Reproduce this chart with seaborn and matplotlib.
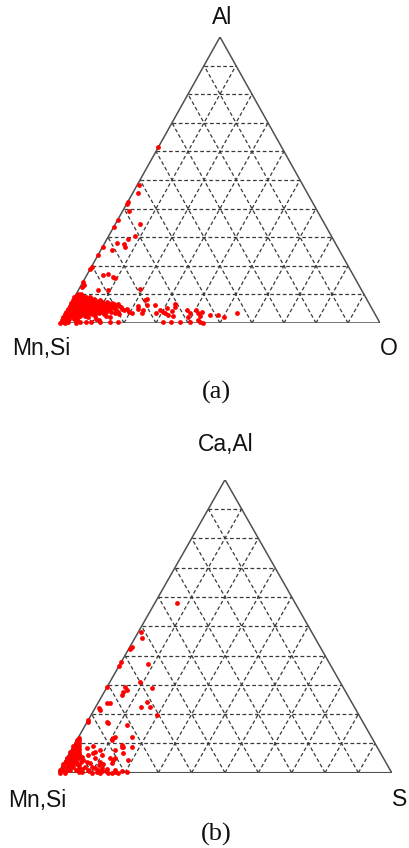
import matplotlib
matplotlib.use("Agg")
import matplotlib.pyplot as plt
import numpy as np
import pandas as pd
import seaborn as sns

sns.set_theme(style="white")
plt.rcParams["font.family"] = ["Liberation Sans", "DejaVu Sans"]

# ---------------- data: (a) Mn,Si - Al - O  (percent: Al, O) ----------------
upper_a = [
    (61.4, 0.0), (48.3, 0.4), (45.6, 1.7), (42.4, 0.1), (41.6, 0.2), (39.2, 2.1),
    (36.0, 0.2), (34.5, 7.7), (33.5, 0.0), (30.5, 8.1), (29.3, 6.7), (27.9, 3.8),
    (27.6, 6.3), (26.5, 7.1), (25.5, 3.4), (26.7, 0.0), (23.8, 0.0), (19.7, 0.0),
    (18.9, 0.0), (16.8, 5.1), (17.0, 6.6), (16.2, 8.6), (15.6, 9.4), (14.4, 0.0),
    (13.3, 0.7), (12.7, 0.5), (11.5, 6.2), (11.5, 9.3), (11.8, 19.1),
]
tail_a = [
    (8.0, 22.6), (8.4, 23.1), (6.3, 24.0), (4.5, 23.7), (3.4, 23.8), (6.3, 26.6),
    (3.4, 28.3), (4.5, 29.0), (4.0, 30.3), (5.1, 30.8), (3.4, 31.1), (2.8, 32.4),
    (4.3, 32.7), (5.7, 33.0), (2.4, 34.2), (6.6, 32.6), (4.5, 37.3), (3.4, 38.9),
    (2.2, 39.0), (4.5, 40.4), (3.4, 41.5), (4.0, 42.3), (2.4, 42.5), (1.0, 42.7),
    (0.0, 44.8), (2.8, 45.5), (2.8, 48.1), (2.2, 50.0), (3.4, 53.5),
    (0.3, 6.2), (0.3, 9.4), (0.3, 12.5), (0.3, 15.6), (0.3, 18.0), (0.3, 32.0),
    (0.3, 34.4), (0.3, 37.5), (0.3, 40.6), (0.3, 43.7),
]
core_a = [
    (10, 0.5), (10, 1.5),
    (9.5, 0.3), (9.5, 1.2), (9.5, 2.4),
    (9, 0), (9, 1.2), (9, 2.5), (9, 3.6), (9, 4.8),
    (8.5, 0.5), (8.5, 1.6), (8.5, 2.8), (8.5, 4), (8.5, 5.2), (8.5, 6.4),
    (8, 0), (8, 1), (8, 2.2), (8, 3.4), (8, 4.6), (8, 5.8), (8, 7), (8, 8.4),
    (7.5, 0.5), (7.5, 1.8), (7.5, 3), (7.5, 4.2), (7.5, 5.5), (7.5, 6.8), (7.5, 8),
    (7.5, 9.4), (7.5, 10.8),
    (7, 0), (7, 1.2), (7, 2.4), (7, 3.6), (7, 5), (7, 6.2), (7, 7.5), (7, 8.8),
    (7, 10), (7, 11.5), (7, 12.8),
    (6.5, 0.6), (6.5, 2), (6.5, 3.2), (6.5, 4.4), (6.5, 5.8), (6.5, 7), (6.5, 8.3),
    (6.5, 9.6), (6.5, 11), (6.5, 12.2), (6.5, 13.5), (6.5, 14.8),
    (6, 0), (6, 1.2), (6, 2.6), (6, 3.8), (6, 5), (6, 6.4), (6, 7.6), (6, 9),
    (6, 10.3), (6, 11.6), (6, 13), (6, 14.2), (6, 15.5), (6, 21.5),
    (5.5, 0.5), (5.5, 1.8), (5.5, 3), (5.5, 4.4), (5.5, 5.6), (5.5, 7), (5.5, 8.2),
    (5.5, 9.6), (5.5, 11), (5.5, 12.4), (5.5, 13.8), (5.5, 16.2),
    (5, 0), (5, 1.2), (5, 2.5), (5, 3.8), (5, 5), (5, 6.3), (5, 7.6), (5, 9),
    (5, 10.4), (5, 11.8), (5, 13.2), (5, 14.6), (5, 16.8), (5, 18.5), (5, 22),
    (4.5, 0.6), (4.5, 2), (4.5, 3.3), (4.5, 4.6), (4.5, 6), (4.5, 7.4), (4.5, 8.8),
    (4.5, 10.2), (4.5, 11.6), (4.5, 13), (4.5, 15.4), (4.5, 17.6),
    (4, 0), (4, 1.3), (4, 2.6), (4, 4), (4, 5.4), (4, 6.8), (4, 8.2), (4, 9.6),
    (4, 11), (4, 12.5), (4, 14), (4, 16.2), (4, 19.5),
    (3.5, 0.5), (3.5, 1.8), (3.5, 3.2), (3.5, 4.6), (3.5, 6), (3.5, 7.5), (3.5, 9),
    (3.5, 10.5), (3.5, 12), (3.5, 15.5), (3.5, 20.8),
    (3, 0), (3, 1.3), (3, 2.6), (3, 4), (3, 5.5), (3, 7), (3, 8.6), (3, 12.4), (3, 17),
    (2.5, 0.6), (2.5, 2), (2.5, 3.4), (2.5, 5), (2.5, 6.5), (2.5, 9.6), (2.5, 13.2),
    (2, 0), (2, 1.4), (2, 3), (2, 4.5), (2, 7.8), (2, 14.5),
    (1.5, 0.5), (1.5, 2), (1.5, 3.6), (1.5, 10.5),
    (1, 0), (1, 1.4), (1, 4.8), (1, 11.8),
    (0.5, 0.6), (0.5, 2.2), (0.5, 8),
    (0, 0), (0, 1.5), (0, 5),
]

# ---------------- data: (b) Mn,Si - Ca,Al - S  (percent: CaAl, S) ----------------
upper_b = [
    (57.8, 6.6), (48.1, 0.9), (45.9, 2.1), (43.0, 0.5), (42.1, 0.6), (37.9, 0.0),
    (36.4, 0.0), (37.1, 8.4), (29.4, 0.0), (29.4, 5.3), (27.6, 5.7), (28.2, 6.4),
    (26.5, 6.0), (31.1, 9.0), (28.8, 13.6), (22.0, 1.3), (23.7, 2.9), (22.5, 13.7),
    (22.5, 16.2), (24.2, 14.4), (23.9, 3.6), (21.4, 1.8), (19.7, 19.7), (17.4, 0.3),
    (17.4, 5.8), (17.1, 6.5), (16.3, 12.4), (18.0, 0.0),
]
mid_b = [
    (8.5, 4.5), (9.0, 6.0), (7.8, 8.5), (6.0, 6.0), (5.0, 8.5), (2.5, 11.0),
    (1.5, 12.5), (2.8, 12.0), (0.5, 13.0), (1.2, 14.0), (7.2, 7.4), (6.6, 7.2),
    (5.5, 4.3), (4.3, 5.3), (3.8, 6.6), (3.2, 7.9), (2.0, 9.0), (2.0, 7.0),
    (0.9, 8.5), (1.5, 10.3), (0.9, 11.5), (3.8, 10.6), (6.0, 10.0), (4.9, 13.0),
    (4.3, 14.3), (0.9, 5.0), (0.3, 6.0), (1.0, 16.5), (6.6, 16.2), (7.7, 13.1),
    (8.9, 14.6), (4.9, 14.5), (3.2, 14.4), (4.3, 18.8), (0.3, 20.5), (0.0, 15.0),
    (0.0, 16.0), (0.3, 17.0), (0.0, 18.0), (0.5, 19.0), (12.3, 10.9), (11.7, 10.6),
    (11.2, 10.4), (9.5, 14.3), (8.9, 15.1), (12.3, 15.9), (8.9, 17.6),
    (0.3, 7.0), (0.5, 9.0), (0.0, 10.0), (0.3, 11.5), (0.0, 12.5), (0.5, 14.0),
    (1.5, 5.5), (2.5, 5.0), (3.5, 5.0), (1.2, 6.5),
]
core_b = [
    (12, 0.2), (11, 0), (11, 0.8), (10, 0.3), (10, 1.2), (9, 0), (9, 0.8), (9, 1.8),
    (8, 0.4), (8, 1.3), (8, 2.3), (7, 0), (7, 0.9), (7, 1.9), (7, 2.8),
    (6, 0.4), (6, 1.4), (6, 2.4), (6, 3.3), (5, 0), (5, 0.9), (5, 1.9), (5, 2.9),
    (5, 3.8), (4, 0.4), (4, 1.4), (4, 2.4), (4, 3.4), (3, 0), (3, 1), (3, 2),
    (3, 3), (3, 4), (2, 0.5), (2, 1.5), (2, 2.5), (2, 3.5), (1, 0), (1, 1),
    (1, 2), (1, 3), (0, 0.5), (0, 2),
]

labels_a = ["Al", "Mn,Si", "O", "(a)"]
labels_b = ["Ca,Al", "Mn,Si", "S", "(b)"]

W, H = 410, 848
fig = plt.figure(figsize=(W / 100, H / 100), dpi=100)
fig.patch.set_facecolor("white")


def tri_axes(left, base_y, width, height):
    ax = fig.add_axes([left / W, 1 - base_y / H, width / W, height / H])
    ax.set_xlim(0, 1)
    ax.set_ylim(0, 1)
    ax.axis("off")
    return ax


def draw_frame(ax):
    dash = dict(color="#3a3a3a", lw=0.9, linestyle=(0, (3, 2)), zorder=1)
    for k in range(1, 10):
        f = k / 10
        ax.plot([f / 2, 1 - f / 2], [f, f], **dash)
        ax.plot([f, f + (1 - f) / 2], [0, 1 - f], **dash)
        ax.plot([1 - f, (1 - f) / 2], [0, 1 - f], **dash)
    ax.plot([0, 1, 0.5, 0], [0, 0, 1, 0], color="#505050", lw=1.1,
            solid_joinstyle="miter", zorder=2)


def to_df(*groups):
    arr = np.array([p for g in groups for p in g], dtype=float)
    top, right = arr[:, 0] / 100, arr[:, 1] / 100
    return pd.DataFrame({"x": right + top / 2, "y": top})


def draw(ax, df):
    sns.scatterplot(data=df, x="x", y="y", ax=ax, color="#ff0000", s=12,
                    linewidth=0, legend=False, clip_on=False, zorder=3)
    ax.set_xlim(0, 1)
    ax.set_ylim(0, 1)
    ax.axis("off")


ax_a = tri_axes(60, 323, 320, 286)
draw_frame(ax_a)
draw(ax_a, to_df(upper_a, tail_a, core_a))

ax_b = tri_axes(58.3, 772.7, 333.4, 293)
draw_frame(ax_b)
draw(ax_b, to_df(upper_b, mid_b, core_b))


def label(x, y, s, serif=False, size=16.5):
    fam = ["Liberation Serif", "DejaVu Serif"] if serif else ["Liberation Sans", "DejaVu Sans"]
    fig.text(x / W, 1 - y / H, s, ha="center", va="center", fontsize=size,
             family=fam, color="#111111")


label(222.5, 18, labels_a[0])
label(41, 348, labels_a[1])
label(389, 348, labels_a[2])
label(216, 392, labels_a[3], serif=True, size=19)

label(226, 445, labels_b[0])
label(37.5, 800, labels_b[1])
label(400, 800, labels_b[2])
label(216, 834, labels_b[3], serif=True, size=19)

fig.savefig("out.png", dpi=100, facecolor="white")
